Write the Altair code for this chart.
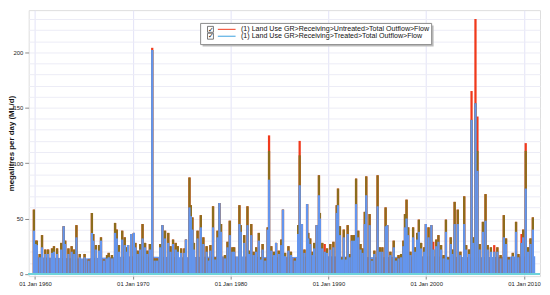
import altair as alt
import pandas as pd

# ---- data (decimal year, ML/d) ----
years = [1959.88, 1960.05, 1960.18, 1960.47, 1960.71, 1961.04, 1961.33, 1961.73, 1961.93, 1962.25,
         1962.67, 1962.92, 1963.08, 1963.41, 1963.74, 1964.00, 1964.23, 1964.57, 1965.06, 1965.48,
         1965.81, 1965.95, 1966.21, 1966.54, 1966.74, 1967.04, 1967.36, 1967.53, 1967.86, 1968.18,
         1968.35, 1968.58, 1968.91, 1969.17, 1969.37, 1969.51, 1969.83, 1970.10, 1970.26, 1970.49,
         1970.75, 1970.99, 1971.25, 1971.48, 1971.74, 1971.98, 1972.23, 1972.47, 1972.80, 1973.02,
         1973.29, 1973.62, 1973.85, 1974.11, 1974.38, 1974.60, 1974.94, 1975.27, 1975.43, 1975.79,
         1975.93, 1976.09, 1976.25, 1976.62, 1976.95, 1977.21, 1977.54, 1977.77, 1977.93, 1978.20,
         1978.43, 1978.66, 1978.85, 1979.02, 1979.42, 1979.68, 1979.91, 1980.18, 1980.36, 1980.90,
         1981.03, 1981.39, 1981.72, 1981.89, 1982.11, 1982.35, 1982.61, 1982.88, 1983.10, 1983.27,
         1983.54, 1983.79, 1983.93, 1984.16, 1984.43, 1984.65, 1984.92, 1985.18, 1985.35, 1985.57,
         1985.91, 1986.17, 1986.56, 1986.90, 1987.06, 1987.29, 1987.55, 1987.82, 1987.94, 1988.14,
         1988.38, 1988.54, 1988.80, 1989.03, 1989.13, 1989.37, 1989.62, 1989.86, 1990.19, 1990.51,
         1990.85, 1990.98, 1991.18, 1991.40, 1991.57, 1991.80, 1991.97, 1992.17, 1992.39, 1992.63,
         1992.83, 1993.05, 1993.28, 1993.48, 1993.72, 1993.87, 1994.21, 1994.47, 1994.70, 1995.03,
         1995.26, 1995.52, 1995.85, 1996.02, 1996.34, 1996.68, 1996.91, 1997.17, 1997.43, 1997.67,
         1997.83, 1997.99, 1998.16, 1998.39, 1998.66, 1998.88, 1999.08, 1999.25, 1999.48, 1999.80,
         1999.97, 2000.24, 2000.53, 2000.73, 2001.03, 2001.25, 2001.52, 2001.78, 2002.02, 2002.24,
         2002.51, 2002.67, 2002.91, 2003.23, 2003.50, 2003.89, 2004.09, 2004.39, 2004.64, 2004.81,
         2005.04, 2005.24, 2005.47, 2005.80, 2006.07, 2006.29, 2006.62, 2006.96, 2007.28, 2007.61,
         2007.94, 2008.17, 2008.44, 2008.86, 2009.19, 2009.43, 2009.75, 2009.92, 2010.18, 2010.42,
         2010.67, 2010.91]

untreated = [58, 30, 30, 18, 35, 22, 22, 23, 25, 23,
             28, 43, 30, 23, 25, 22, 44, 18, 18, 13,
             55, 36, 26, 26, 33, 13, 17, 19, 17, 46,
             40, 26, 39, 33, 24, 26, 36, 37, 28, 21,
             27, 45, 28, 21, 27, 204, 14, 14, 27, 44,
             39, 37, 25, 31, 28, 25, 23, 23, 31, 87,
             62, 51, 28, 39, 53, 33, 25, 14, 26, 61,
             15, 39, 64, 45, 17, 29, 48, 24, 24, 62,
             44, 35, 61, 21, 45, 20, 24, 37, 15, 27,
             14, 42, 125, 25, 20, 28, 21, 31, 58, 19,
             25, 20, 14, 44, 120, 45, 22, 63, 37, 32,
             20, 28, 44, 89, 55, 28, 27, 23, 27, 29,
             62, 77, 43, 15, 40, 15, 44, 18, 35, 35,
             86, 39, 27, 23, 56, 88, 54, 13, 21, 89,
             24, 24, 60, 44, 20, 30, 14, 17, 18, 30,
             54, 67, 42, 20, 42, 24, 37, 49, 28, 24,
             45, 42, 44, 29, 31, 35, 26, 17, 49, 15,
             33, 22, 65, 58, 20, 70, 26, 22, 165, 33,
             230, 142, 27, 47, 72, 26, 24, 26, 24, 17,
             53, 32, 15, 19, 47, 18, 36, 40, 118, 24,
             32, 51]

treated = [39, 27, 26, 15, 24, 18, 18, 19, 20, 18,
           22, 43, 27, 18, 20, 18, 33, 15, 15, 12,
           37, 30, 22, 21, 30, 12, 14, 15, 14, 37,
           32, 20, 31, 26, 20, 26, 36, 37, 24, 18,
           22, 32, 24, 18, 22, 202, 12, 12, 24, 44,
           32, 28, 20, 27, 22, 20, 19, 19, 31, 60,
           52, 40, 22, 32, 42, 27, 20, 12, 21, 42,
           13, 33, 64, 38, 14, 24, 35, 20, 20, 45,
           38, 28, 44, 18, 35, 17, 20, 30, 13, 22,
           12, 40, 85, 21, 17, 28, 18, 26, 58, 16,
           21, 17, 12, 36, 80, 45, 19, 63, 32, 27,
           17, 23, 44, 71, 50, 23, 20, 19, 22, 24,
           55, 62, 35, 13, 33, 13, 36, 15, 30, 30,
           63, 33, 22, 19, 45, 71, 44, 12, 18, 61,
           20, 20, 43, 44, 17, 24, 12, 14, 15, 25,
           42, 50, 35, 17, 33, 20, 31, 38, 23, 20,
           45, 33, 44, 22, 25, 29, 22, 14, 38, 13,
           27, 18, 45, 45, 17, 45, 22, 18, 139, 28,
           154, 93, 22, 38, 48, 22, 20, 20, 20, 14,
           33, 27, 13, 16, 38, 15, 28, 33, 77, 20,
           27, 40]

# peaks whose red (untreated) tip stands clear above the olive overlap
tip_years = [1971.98, 1983.93, 1987.06, 1989.62, 2000.73, 2004.64, 2005.04, 2005.24, 2006.96, 2009.75, 2010.18]
tip_caps = [202, 111, 107, 20, 22, 139, 154, 111, 20, 28, 111]

# low-flow base level
base_years = [1959.85, 1965.0, 1970.0, 1975.0, 1980.0, 1985.0, 1990.0, 1995.0, 2000.0, 2005.0, 2011.15]
base_vals = [15, 14, 16, 15, 16, 15, 16, 15, 16, 15, 16]

y_ticks = [0, 10, 20, 30, 40, 50, 60, 70, 80, 90, 100, 110, 120, 130, 140, 150, 160, 170,
           180, 190, 200, 210, 220, 230]
x_tick_years = [1960, 1970, 1980, 1990, 2000, 2010]

legend_labels = ["(1) Land Use GR>Receiving>Untreated>Total Outflow>Flow",
                 "(1) Land Use GR>Receiving>Treated>Total Outflow>Flow"]


def to_ts(y):
    yr = int(y // 1)
    return pd.Timestamp(year=yr, month=1, day=1) + pd.Timedelta(days=(y - yr) * 365.25)


olive = list(untreated)
for ty, cap in zip(tip_years, tip_caps):
    olive[years.index(ty)] = cap

df = pd.DataFrame({"date": [to_ts(y) for y in years], "untreated": untreated,
                   "treated": treated, "olive": olive})
base_df = pd.DataFrame({"date": [to_ts(y) for y in base_years], "base": base_vals})

FONT = "Liberation Sans"
RED = "#f03a1c"
BLUE = "#6495ED"
OLIVE = "#8c6d1c"
BAR_W = 2.3

xscale = alt.Scale(domain=[to_ts(1959.85).isoformat(), to_ts(2011.14).isoformat()], nice=False)
yscale = alt.Scale(domain=[-2, 238], nice=False, zero=False)

xaxis = alt.Axis(values=[alt.DateTime(year=y, month=1, date=1) for y in x_tick_years],
                 format="%d %b %Y", labelFont=FONT, labelFontSize=6, labelColor="#222",
                 tickSize=3, tickColor="#888", domain=False, grid=True, gridColor="#e3e3f7",
                 labelPadding=2, labelOverlap=False, title=None)
yaxis = alt.Axis(values=y_ticks, grid=True, gridColor="#ececf6", domain=False,
                 labelExpr="datum.value % 50 === 0 ? datum.label : ''",
                 labelOverlap=False,
                 tickColor={"condition": {"test": "datum.value % 50 === 0", "value": "#888"},
                            "value": "transparent"},
                 tickSize=4, labelFont=FONT, labelFontSize=6, labelColor="#222", labelPadding=2,
                 title="megalitres per day (ML/d)", titleFont=FONT, titleFontSize=8,
                 titleFontWeight="bold", titleColor="#111",
                 titleX=-17, titleY=135, titleAngle=270, titleAlign="center", titleBaseline="middle")


def X():
    return alt.X("date:T", scale=xscale, axis=xaxis)


def Y(field):
    return alt.Y(f"{field}:Q", scale=yscale, axis=yaxis, stack=None)


base = alt.Chart(base_df).mark_area(color=BLUE, opacity=1).encode(
    x=X(), y=Y("base"), y2=alt.datum(0))

bars_red = alt.Chart(df).mark_bar(size=BAR_W, color=RED).encode(
    x=X(), y=Y("untreated"), y2=alt.datum(0))
bars_olive = alt.Chart(df).mark_bar(size=BAR_W, color=OLIVE).encode(
    x=X(), y=Y("olive"), y2=alt.datum(0))
bars_blue = alt.Chart(df).mark_bar(size=BAR_W, color=BLUE).encode(
    x=X(), y=Y("treated"), y2=alt.datum(0))

zero_line = alt.Chart(base_df).mark_rule(color="#6fd3da", strokeWidth=1.5).encode(
    y=alt.YDatum(0, scale=yscale, axis=yaxis), x=alt.value(0), x2=alt.value(519))

# legend box
one = pd.DataFrame({"k": [0]})
box_shadow = alt.Chart(one).mark_rect(color="#bdbdbd").encode(
    x=alt.value(176.5), x2=alt.value(411), y=alt.value(15.5), y2=alt.value(37))
box = alt.Chart(one).mark_rect(fill="white", stroke="#8a8a8a", strokeWidth=1).encode(
    x=alt.value(174.5), x2=alt.value(409), y=alt.value(13.5), y2=alt.value(35))
chk1 = alt.Chart(one).mark_rect(fill="white", stroke="#555", strokeWidth=0.8).encode(
    x=alt.value(181.5), x2=alt.value(187.5), y=alt.value(16.5), y2=alt.value(22.5))
chk2 = alt.Chart(one).mark_rect(fill="white", stroke="#555", strokeWidth=0.8).encode(
    x=alt.value(181.5), x2=alt.value(187.5), y=alt.value(23.5), y2=alt.value(29.5))
ticks1 = alt.Chart(one).mark_text(text="✓", font="DejaVu Sans", fontSize=7, color="#111").encode(
    x=alt.value(184.8), y=alt.value(19.8))
ticks2 = alt.Chart(one).mark_text(text="✓", font="DejaVu Sans", fontSize=7, color="#111").encode(
    x=alt.value(184.8), y=alt.value(26.8))
line1 = alt.Chart(one).mark_rule(color=RED, strokeWidth=1).encode(
    x=alt.value(192), x2=alt.value(210), y=alt.value(19.5))
line2 = alt.Chart(one).mark_rule(color="#3aa0e0", strokeWidth=1).encode(
    x=alt.value(192), x2=alt.value(210), y=alt.value(26.5))
txt1 = alt.Chart(one).mark_text(align="left", baseline="middle", font=FONT, fontSize=7.2,
                                color="#111", text=legend_labels[0]).encode(
    x=alt.value(215.5), y=alt.value(19.3))
txt2 = alt.Chart(one).mark_text(align="left", baseline="middle", font=FONT, fontSize=7.2,
                                color="#111", text=legend_labels[1]).encode(
    x=alt.value(215.5), y=alt.value(26.7))

chart = alt.layer(base, bars_red, bars_olive, bars_blue, zero_line,
                  box_shadow, box, chk1, chk2, ticks1, ticks2, line1, line2, txt1, txt2).properties(
    width=519, height=270,
    autosize=alt.AutoSizeParams(type="none"),
    padding={"left": 21, "top": 0, "right": 2, "bottom": 17},
).configure_view(stroke="#b5b5b5", strokeWidth=1).configure(background="white")

chart.save("out.html", embed_options={"renderer": "svg", "actions": False})
